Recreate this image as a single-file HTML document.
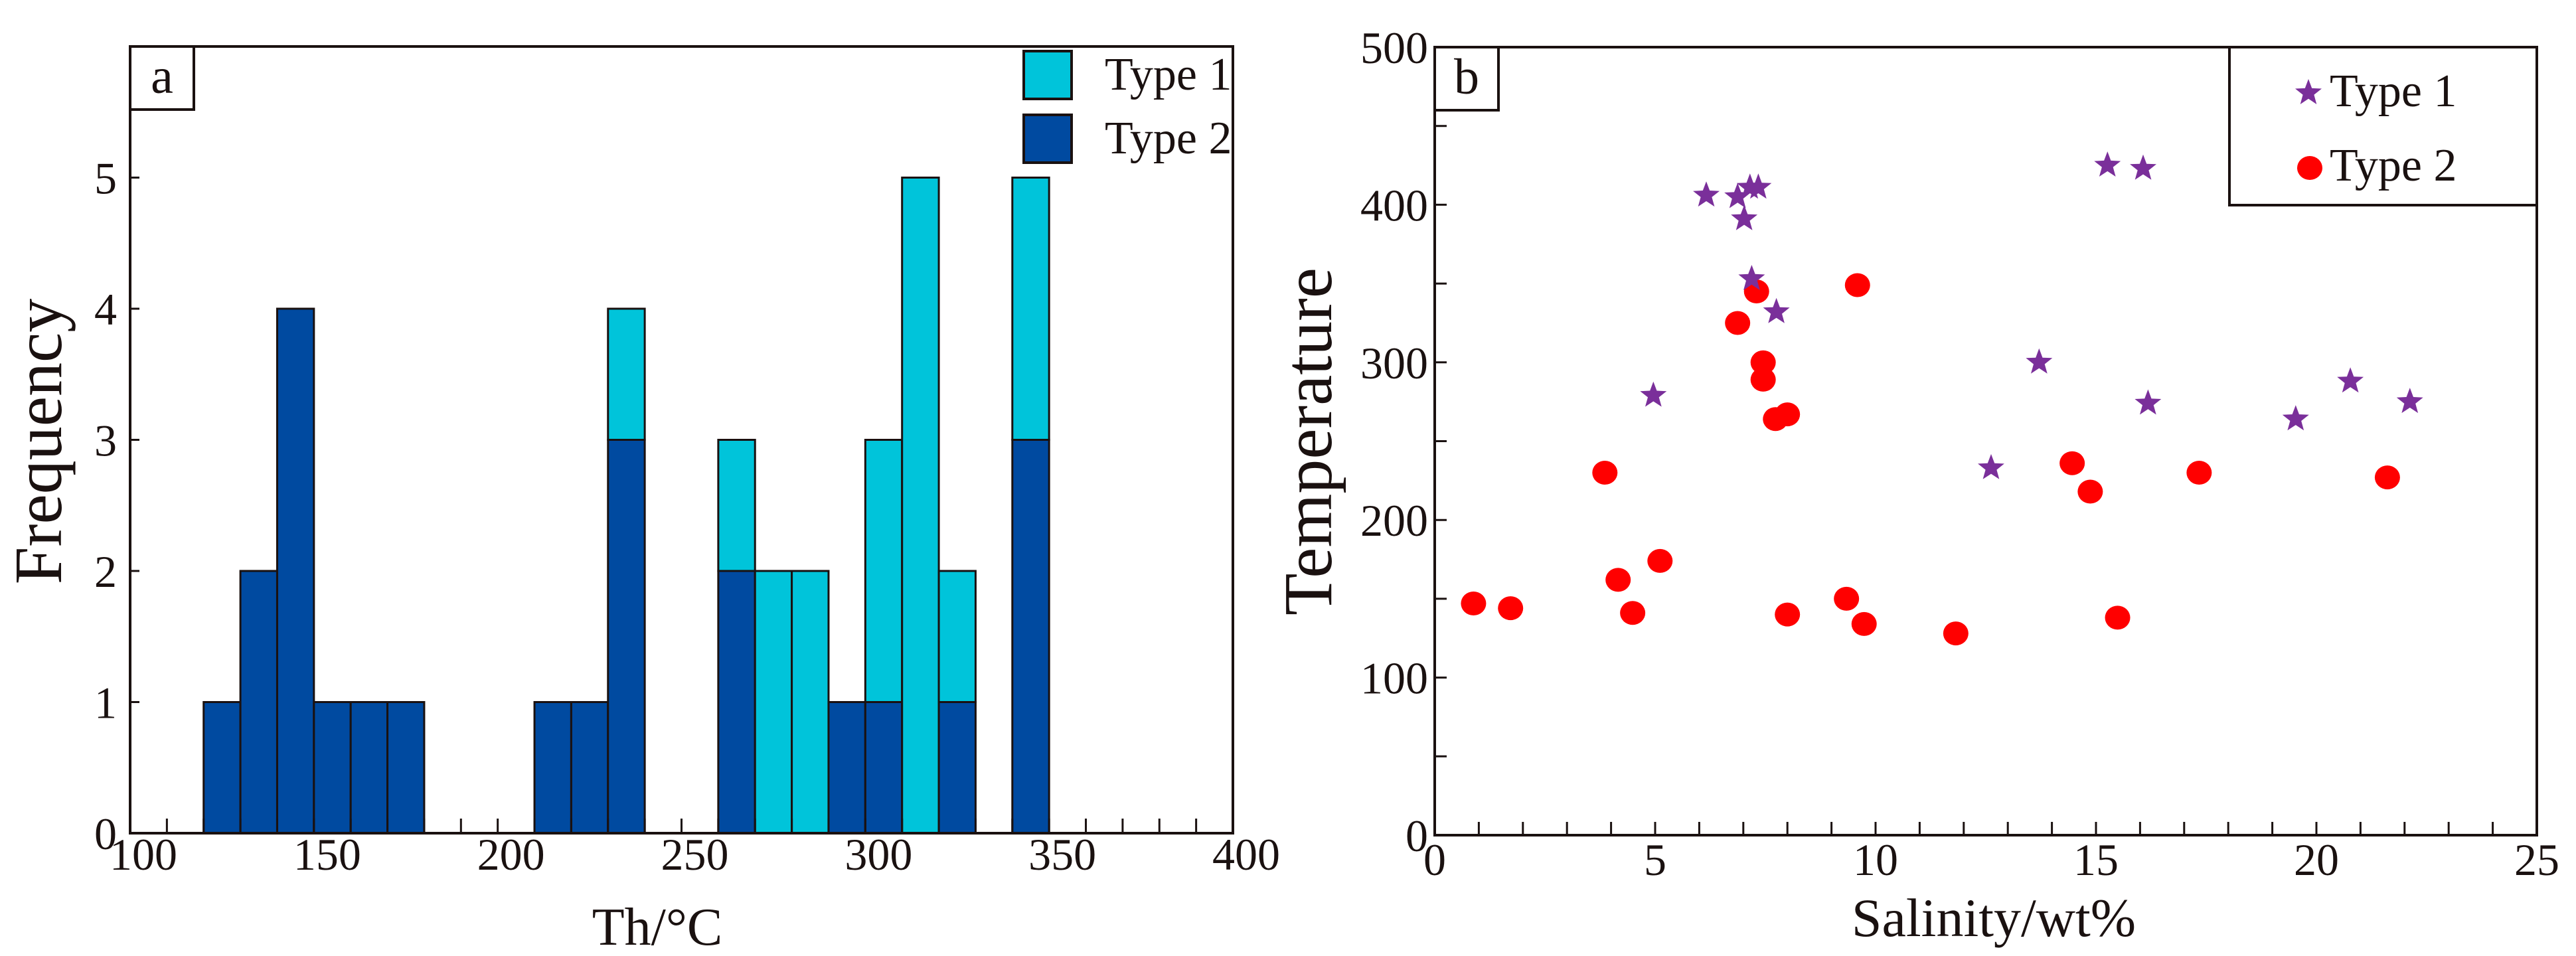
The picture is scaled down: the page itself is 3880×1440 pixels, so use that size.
<!DOCTYPE html>
<html><head><meta charset="utf-8"><style>
html,body{margin:0;padding:0;background:#fff}
svg{display:block}
text{font-family:"Liberation Serif",serif;fill:#1a1110}
</style></head><body>
<svg id="fig" width="3880" height="1440" viewBox="0 0 3880 1440" xmlns="http://www.w3.org/2000/svg">
<rect width="3880" height="1440" fill="#fff"/>
<g id="pa"></g>
<g id="pb"></g>
</svg>
<script>
// Panel a data
const binStarts = [120,130,140,150,160,170,210,220,230,260,270,280,290,300,310,320,340];
const type2Counts = [1,2,4,1,1,1,1,1,3,2,0,0,1,1,0,1,3];
const type1Counts = [0,0,0,0,0,0,0,0,1,1,2,2,0,2,5,1,2];
const xTicksA = [100,150,200,250,300,350,400];
const yTicksA = [0,1,2,3,4,5];
// Panel b data
const t1Sal = [4.96,6.16,6.87,7.02,7.15,7.34,7.19,7.75,12.62,13.71,15.26,16.07,16.18,19.53,20.77,22.12];
const t1Temp = [279,406,405,391,411,411,353,332,233,300,425,423,274,264,288,275];
const t2Sal = [0.88,1.72,3.86,4.16,4.49,5.11,6.87,7.30,7.45,7.45,7.73,8.0,8.0,9.34,9.59,9.74,11.82,14.46,14.87,15.49,17.34,21.61];
const t2Temp = [147,144,230,162,141,174,325,345,300,289,264,267,140,150,349,134,128,236,218,138,230,227];
const xTicksB = [0,5,10,15,20,25];
const yTicksB = [0,100,200,300,400,500];

const NS='http://www.w3.org/2000/svg';
function mk(tag, attrs, parent, txt){const e=document.createElementNS(NS,tag);for(const k in attrs)e.setAttribute(k,attrs[k]);if(txt!==undefined)e.textContent=txt;parent.appendChild(e);return e;}

// ---------- Panel a ----------
const pa=document.getElementById('pa');
const aL=196,aR=1857,aT=70,aB=1255;
const xa=v=>aL+(v-100)/300*(aR-aL);
const ya=v=>aB-v/6*(aB-aT);
binStarts.forEach((s,i)=>{
  const x0=xa(s),x1=xa(s+10);
  const b2=type2Counts[i],b1=type1Counts[i];
  if(b2>0){const r=mk('rect',{x:x0,y:ya(b2),width:x1-x0,height:ya(0)-ya(b2),fill:'#004aa0',stroke:'#1a1110','stroke-width':3},pa);
    
    }
  if(b1>0){const r=mk('rect',{x:x0,y:ya(b2+b1),width:x1-x0,height:ya(b2)-ya(b2+b1),fill:'#00c4da',stroke:'#1a1110','stroke-width':3},pa);
    
    }
});
for(let v=110;v<400;v+=10){const t=mk('line',{x1:xa(v),x2:xa(v),y1:aB,y2:aB-22,stroke:'#1a1110','stroke-width':3},pa);
  
  }
xTicksA.forEach(v=>{const t=mk('text',{x:xa(v)+20,y:1310,'font-size':68,'text-anchor':'middle'},pa,String(v));
  
  });
yTicksA.forEach(v=>{const l=mk('line',{x1:aL,x2:aL+14,y1:ya(v),y2:ya(v),stroke:'#1a1110','stroke-width':3},pa);
  
  
  const t=mk('text',{x:176,y:ya(v)+24,'font-size':68,'text-anchor':'end'},pa,String(v));
  
  });
const frA=mk('rect',{x:aL,y:aT,width:aR-aL,height:aB-aT,fill:'none',stroke:'#1a1110','stroke-width':4},pa);


const lbA=mk('rect',{x:aL,y:aT,width:96,height:95,fill:'#fff',stroke:'#1a1110','stroke-width':4},pa);


const laA=mk('text',{x:aL+48,y:aT+70,'font-size':76,'text-anchor':'middle'},pa,'a');


[['#00c4da','Type 1',77],['#004aa0','Type 2',173]].forEach(([c,n,y],i)=>{
  const r=mk('rect',{x:1542,y:y,width:72,height:72,fill:c,stroke:'#1a1110','stroke-width':4},pa);
  
  
  const t=mk('text',{x:1664,y:y+58,'font-size':70},pa,n);
  
  
});
const ytA=mk('text',{x:0,y:0,'font-size':102,'text-anchor':'middle',transform:'translate(92,665) rotate(-90)'},pa,'Frequency');


const xtA=mk('text',{x:990,y:1423,'font-size':80,'text-anchor':'middle'},pa,'Th/°C');



// ---------- Panel b ----------
const pb=document.getElementById('pb');
const bL=2161,bR=3821,bT=71,bB=1258;
const xb=v=>bL+v/25*(bR-bL);
const yb=v=>bB-v/500*(bB-bT);
for(let v=1;v<25;v++){const t=mk('line',{x1:xb(v),x2:xb(v),y1:bB,y2:bB-20,stroke:'#1a1110','stroke-width':3},pb);
  
  }
for(let v=50;v<500;v+=50){const t=mk('line',{x1:bL,x2:bL+18,y1:yb(v),y2:yb(v),stroke:'#1a1110','stroke-width':3},pb);
  
  }
xTicksB.forEach(v=>{const t=mk('text',{x:xb(v),y:1318,'font-size':68,'text-anchor':'middle'},pb,String(v));
  
  });
yTicksB.forEach(v=>{const t=mk('text',{x:2151,y:yb(v)+24,'font-size':68,'text-anchor':'end'},pb,String(v));
  
  });
function star(cx,cy,R){const r=R*0.42;let d='';for(let i=0;i<10;i++){const a=-Math.PI/2+i*Math.PI/5;const rr=i%2?r:R;d+=(i?'L':'M')+(cx+rr*Math.cos(a)).toFixed(1)+' '+(cy+rr*Math.sin(a)).toFixed(1);}return d+'Z';}
t2Sal.forEach((s,i)=>{const c=mk('ellipse',{cx:xb(s),cy:yb(t2Temp[i]),rx:19,ry:18,fill:'#ff0000'},pb);
  
  });
t1Sal.forEach((s,i)=>{const p=mk('path',{d:star(xb(s),yb(t1Temp[i]),21),fill:'#7a2f9a'},pb);
  
  });
const frB=mk('rect',{x:bL,y:bT,width:bR-bL,height:bB-bT,fill:'none',stroke:'#1a1110','stroke-width':4},pb);


const lbB=mk('rect',{x:bL,y:bT,width:96,height:95,fill:'#fff',stroke:'#1a1110','stroke-width':4},pb);


const laB=mk('text',{x:bL+48,y:bT+70,'font-size':76,'text-anchor':'middle'},pb,'b');


const lgB=mk('rect',{x:3358,y:bT,width:bR-3358,height:238,fill:'#fff',stroke:'#1a1110','stroke-width':4},pb);


const ls1=mk('path',{d:star(3477,140,21),fill:'#7a2f9a'},pb);


const lt1=mk('text',{x:3509,y:160,'font-size':70},pb,'Type 1');


const ls2=mk('ellipse',{cx:3479,cy:253,rx:19,ry:18,fill:'#ff0000'},pb);


const lt2=mk('text',{x:3509,y:272,'font-size':70},pb,'Type 2');


const ytB=mk('text',{x:0,y:0,'font-size':104,'text-anchor':'middle',transform:'translate(2005,665) rotate(-90)'},pb,'Temperature');


const xtB=mk('text',{x:3003,y:1410,'font-size':82,'text-anchor':'middle'},pb,'Salinity/wt%');


</script>
</body></html>
